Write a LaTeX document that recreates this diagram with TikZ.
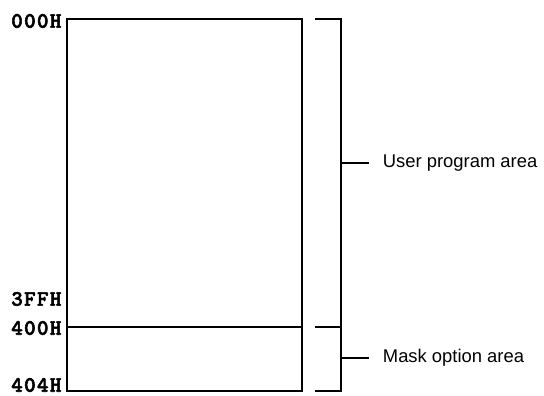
\documentclass[tikz,border=0pt]{standalone}
\usepackage{fontspec}
\setmainfont{Liberation Sans}
\newfontfamily\addrfont{lmmonolt10-bold.otf}[LetterSpace=6, FakeBold=2.5]
\usetikzlibrary{positioning}

\begin{document}
\begin{tikzpicture}[x=0.75pt, y=-0.75pt, line width=0.9pt]

        \tikzstyle{addr} = [anchor=east, inner sep=0pt, font=\addrfont\fontsize{16.5}{16.5}\selectfont]
        \tikzstyle{area} = [anchor=west, inner xsep=10pt, inner ysep=0pt, font=\fontsize{13.8}{16}\selectfont]
        \tikzstyle{brace} = [line width=0.9pt]

        \useasboundingbox (0,0) rectangle (544,396);

        % memory block
        \coordinate (memtl) at (67,19);
        \coordinate (membr) at (302,391);
        \coordinate (divl) at (67,327);
        \coordinate (divr) at (302,327);
        \draw (memtl) rectangle (membr);
        \draw (divl) -- (divr);

        % addresses
        \node (a000) [addr] at (62,21) {000H};
        \node (a3ff) [addr] at (62,299) {3FFH};
        \node (a400) [addr] at (62,328) {400H};
        \node (a404) [addr] at (62,385) {404H};

        % brackets
        \coordinate (brtop) at (315,19);
        \coordinate (brmid) at (315,327);
        \coordinate (brbot) at (315,391);
        \coordinate (brx) at (341,19);
        \draw [brace] (brtop) -| (brx |- brbot) -- (brbot);
        \draw [brace] (brmid) -- (brx |- brmid);

        % area labels
        \node (user) [area] at (369,163) {User program area};
        \node (mask) [area] at (369,358) {Mask option area};
        \draw (brx |- user.west) -- (user.west);
        \draw (brx |- mask.west) -- (mask.west);
    \end{tikzpicture}
\end{document}
